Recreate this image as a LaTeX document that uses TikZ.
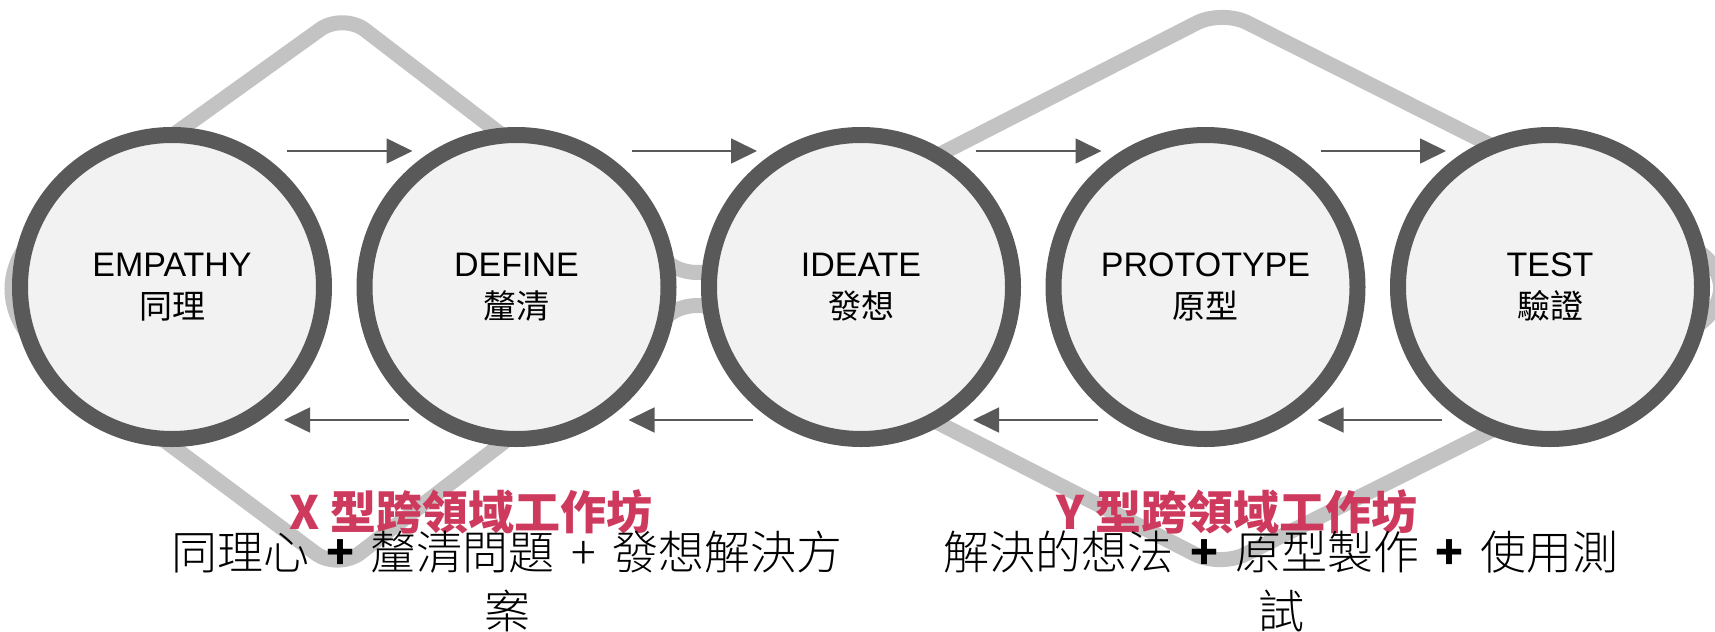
\documentclass[tikz,border=0pt]{standalone}
\usepackage{fontspec}
\setmainfont{Liberation Sans}
\newfontfamily\cjk{Noto Sans CJK TC}
\newfontfamily\cjklight{Noto Sans CJK TC Light}
\usepackage{xcolor}
\usetikzlibrary{arrows.meta,calc}
\definecolor{anello}{HTML}{595959}
\definecolor{sfondo}{HTML}{F2F2F2}
\definecolor{contorno}{HTML}{C3C3C3}
\definecolor{rosso}{HTML}{CE3A5E}
% segni + tra le parole
\newcommand{\piu}{\hspace{0.36em}+\hspace{0.36em}}
\newcommand{\piub}{\hspace{0.36em}{\cjk\bfseries +}\hspace{0.36em}}

\begin{document}
\begin{tikzpicture}[x=0.5pt, y=-0.5pt,
    stage/.style={circle, draw=anello, fill=sfondo, line width=8pt, minimum size=152pt,
        inner sep=0pt, align=center, font=\fontsize{17}{21}\selectfont},
    avanti/.style={draw=anello, line width=0.85pt, -{Triangle[length=13pt,width=12.5pt]}},
    fascia/.style={draw=contorno, line width=7.5pt},
    titolo/.style={text=rosso, inner sep=0pt, font=\cjk\bfseries\fontsize{23}{28}\selectfont},
    testo/.style={align=center, inner sep=0pt, font=\cjklight\fontsize{23}{29.5}\selectfont}]
    \useasboundingbox (0,0) rectangle (1715,632);

    % Contorno grigio (X a sinistra, Y a destra)
    \coordinate (xl) at (-40,288);
    \coordinate (xt) at (343,13);
    \coordinate (w1) at (692,281);
    \coordinate (yt) at (1222,10);
    \coordinate (yr) at (1775,288);
    \coordinate (yb) at (1220,567);
    \coordinate (w2) at (692,297);
    \coordinate (xb) at (338,570);
    \draw[fascia, rounded corners=14pt] ($(xl)!0.5!(xt)$) -- (xt) -- (w1) -- (yt) -- ($(yt)!0.5!(yr)$);
    \draw[fascia, rounded corners=52pt] ($(yt)!0.5!(yr)$) -- (yr) -- ($(yr)!0.5!(yb)$);
    \draw[fascia, rounded corners=14pt] ($(yr)!0.5!(yb)$) -- (yb) -- (w2) -- (xb) -- ($(xb)!0.5!(xl)$);
    \draw[fascia, rounded corners=55pt] ($(xb)!0.5!(xl)$) -- (xl) -- ($(xl)!0.5!(xt)$);

    % Le cinque fasi
    \foreach \nome/\x/\en/\zh in {emp/172/EMPATHY/同理, def/516.5/DEFINE/釐清,
        ide/861/IDEATE/發想, pro/1205.5/PROTOTYPE/原型, tes/1550/TEST/驗證} {
        \node[stage] (\nome) at (\x,287) {\en\\{\cjk\fontsize{16.5}{21}\selectfont \zh}};
    }

    % Frecce avanti e indietro
    \foreach \a/\b in {emp/def, def/ide, ide/pro, pro/tes} {
        \draw[avanti] ([shift={(115,-136)}]\a.center) -- ([shift={(-104,-136)}]\b.center);
        \draw[avanti] ([shift={(-108,133)}]\b.center) -- ([shift={(112,133)}]\a.center);
    }

    % Titoli e descrizioni
    \node[titolo] (tx) at (471,512) {X 型跨領域工作坊};
    \node[titolo] (ty) at (1237,512) {Y 型跨領域工作坊};
    \node[testo] (bx) at (507,581) {同理心\piub 釐清問題\piu 發想解決方\\案};
    \node[testo] (by) at (1281,581) {解決的想法\piub 原型製作\piub 使用測\\試};
\end{tikzpicture}
\end{document}
